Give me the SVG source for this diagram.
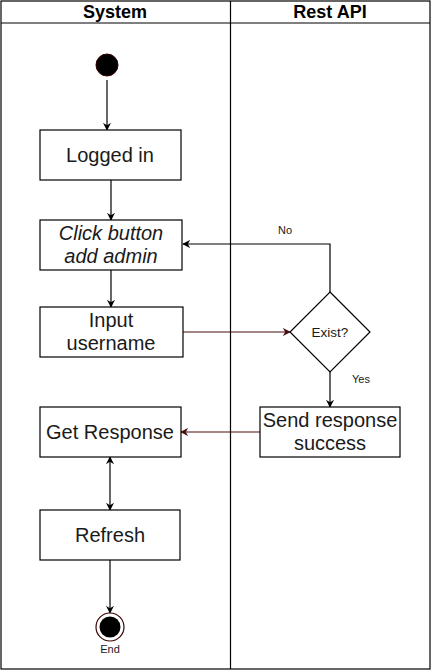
<svg xmlns="http://www.w3.org/2000/svg" width="432" height="671" viewBox="0 0 432 671">
<defs>
<style>
.box{fill:#fff;stroke:#000;stroke-width:1.2}
.t{font-family:"Liberation Sans",Arial,sans-serif;font-size:20px;fill:#1a1a1a;text-anchor:middle}
.s{font-family:"Liberation Sans",Arial,sans-serif;font-size:11px;fill:#1a1a1a;text-anchor:middle}
.h{font-family:"Liberation Sans",Arial,sans-serif;font-size:18px;font-weight:bold;fill:#000;text-anchor:middle}
.e{fill:none;stroke:#000;stroke-width:1.2}
.r{fill:none;stroke:#4a0f0f;stroke-width:1.2}
</style>
<marker id="a" viewBox="0 0 10 10" refX="9" refY="5" markerWidth="8" markerHeight="8" orient="auto-start-reverse" markerUnits="userSpaceOnUse"><path d="M0,0 L10,5 L0,10 L3,5 Z" fill="#000"/></marker>
<marker id="ar" viewBox="0 0 10 10" refX="9" refY="5" markerWidth="8" markerHeight="8" orient="auto" markerUnits="userSpaceOnUse"><path d="M0,0 L10,5 L0,10 L3,5 Z" fill="#4a0f0f"/></marker>
</defs>
<rect width="432" height="671" fill="#fff"/>
<g id="lanes">
<rect x="1" y="1" width="429" height="668" fill="none" stroke="#000" stroke-width="1.2"/>
<line x1="1" y1="23" x2="430" y2="23" stroke="#000" stroke-width="1.2"/>
<line x1="230.5" y1="1" x2="230.5" y2="669" stroke="#000" stroke-width="1.2"/>
<text class="h" x="115" y="18">System</text>
<text class="h" x="330" y="18">Rest API</text>
</g>
<g id="connectors">
<line class="e" x1="107" y1="80" x2="107" y2="130" marker-end="url(#a)"/>
<line class="e" x1="111" y1="180" x2="111" y2="220" marker-end="url(#a)"/>
<line class="e" x1="111" y1="270" x2="111" y2="307" marker-end="url(#a)"/>
<line class="r" x1="183" y1="332" x2="290" y2="332" marker-end="url(#ar)"/>
<polyline class="e" points="330,292 330,244 183,244" marker-end="url(#a)"/>
<text class="s" x="285" y="234">No</text>
<line class="e" x1="330" y1="372" x2="330" y2="407" marker-end="url(#a)"/>
<text class="s" x="361" y="383">Yes</text>
<line class="r" x1="260" y1="432" x2="181" y2="432" marker-end="url(#ar)"/>
<line class="e" x1="110" y1="457" x2="110" y2="510" marker-start="url(#a)" marker-end="url(#a)"/>
<line class="e" x1="110" y1="560" x2="110" y2="613" marker-end="url(#a)"/>
</g>
<g id="start"><circle cx="107" cy="65" r="11" fill="#000" stroke="#3a0000" stroke-width="1"/></g>
<g id="logged"><rect class="box" x="40" y="130" width="141" height="50"/><text class="t" x="110" y="162">Logged in</text></g>
<g id="click"><rect class="box" x="40" y="220" width="142" height="50"/><text class="t" x="111" y="240" font-style="italic">Click button</text><text class="t" x="111" y="263" font-style="italic">add admin</text></g>
<g id="input"><rect class="box" x="40" y="307" width="143" height="50"/><text class="t" x="111" y="327">Input</text><text class="t" x="111" y="350">username</text></g>
<g id="exist"><polygon points="330,292 370,332 330,372 290,332" fill="#fff" stroke="#000" stroke-width="1.2"/><text class="s" x="330" y="337" style="font-size:13.5px">Exist?</text></g>
<g id="send"><rect class="box" x="260" y="407" width="140" height="50"/><text class="t" x="330" y="427">Send response</text><text class="t" x="330" y="450">success</text></g>
<g id="get"><rect class="box" x="40" y="407" width="141" height="50"/><text class="t" x="110" y="439">Get Response</text></g>
<g id="refresh"><rect class="box" x="40" y="510" width="140" height="50"/><text class="t" x="110" y="542">Refresh</text></g>
<g id="end"><circle cx="110" cy="627" r="14" fill="#fff" stroke="#3a0000" stroke-width="1.2"/><circle cx="110" cy="627" r="10.5" fill="#000"/><text class="s" x="110" y="653">End</text></g>
</svg>
